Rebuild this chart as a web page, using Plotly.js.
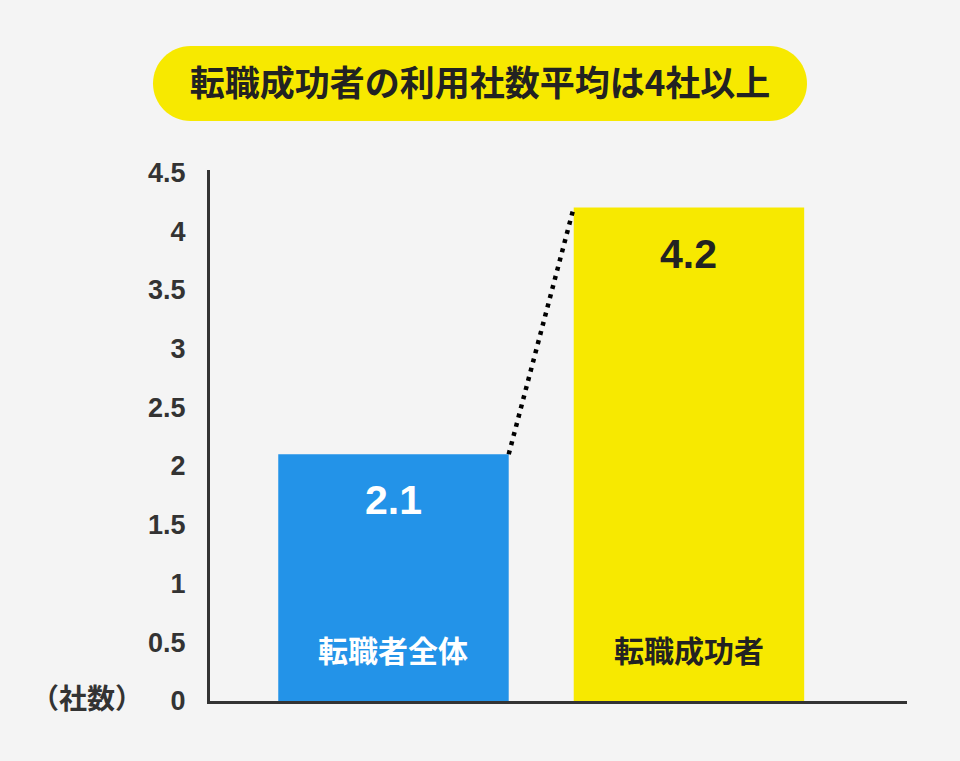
<!DOCTYPE html>
<html>
<head>
<meta charset="utf-8">
<script src="https://cdn.plot.ly/plotly-3.0.1.min.js"></script>
<style>html,body{margin:0;padding:0;background:#f4f4f4;}#chart{width:960px;height:761px;}</style>
</head>
<body>
<div id="chart"></div>
<script>
// ---- data ----
const categories = ["転職者全体", "転職成功者"];
const values = [2.1, 4.2];
const valueLabels = ["2.1", "4.2"];
const barColors = ["#2393e8", "#f7e900"];
const labelColors = ["#ffffff", "#222222"];
const tickValues = [0, 0.5, 1, 1.5, 2, 2.5, 3, 3.5, 4, 4.5];
const tickLabels = ["0", "0.5", "1", "1.5", "2", "2.5", "3", "3.5", "4", "4.5"];
const titleText = "転職成功者の利用社数平均は4社以上";
const unitText = "（社数）";

// ---- layout geometry ----
const W = 960, H = 761;
const M = {l: 210, r: 53, t: 170, b: 60};
const pw = W - M.l - M.r, ph = H - M.t - M.b;
const BAR_W = 0.78;
const FONT = "Liberation Sans, Arial, Noto Sans CJK JP, sans-serif";
const FONT_CJK = "Noto Sans CJK JP, Liberation Sans, sans-serif";

function px2x(px) { return (px - M.l) / pw; }
function px2y(py) { return (H - M.b - py) / ph; }

// rounded pill behind title (pixel geometry)
function pillPath(left, right, top, bottom) {
  const r = (bottom - top) / 2, cy = (top + bottom) / 2, k = 0.5523 * r;
  const P = (x, y) => px2x(x) + "," + px2y(y);
  return "M" + P(left + r, top) +
    " L" + P(right - r, top) +
    " C" + P(right - r + k, top) + " " + P(right, cy - k) + " " + P(right, cy) +
    " C" + P(right, cy + k) + " " + P(right - r + k, bottom) + " " + P(right - r, bottom) +
    " L" + P(left + r, bottom) +
    " C" + P(left + r - k, bottom) + " " + P(left, cy + k) + " " + P(left, cy) +
    " C" + P(left, cy - k) + " " + P(left + r - k, top) + " " + P(left + r, top) + " Z";
}

const trace = {
  type: "bar",
  x: categories,
  y: values,
  width: BAR_W,
  marker: {color: barColors, line: {width: 0}},
  hoverinfo: "skip",
  showlegend: false
};

const annotations = [];
categories.forEach((c, i) => {
  annotations.push({
    x: c, y: values[i], xref: "x", yref: "y",
    text: "<b>" + valueLabels[i] + "</b>", showarrow: false,
    yanchor: "middle", yshift: -46,
    font: {family: FONT, size: 41, color: labelColors[i]}
  });
  annotations.push({
    x: c, y: 0, xref: "x", yref: "y",
    text: "<b>" + c + "</b>", showarrow: false,
    yanchor: "middle", yshift: 52,
    font: {family: FONT_CJK, size: 30, color: labelColors[i]}
  });
});
annotations.push({
  x: px2x(87), y: 0, xref: "paper", yref: "y",
  text: "<b>" + unitText + "</b>", showarrow: false,
  xanchor: "center", yanchor: "middle", yshift: 4,
  font: {family: FONT_CJK, size: 28, color: "#333333"}
});

const layout = {
  width: W, height: H,
  margin: M,
  paper_bgcolor: "#f4f4f4",
  plot_bgcolor: "#f4f4f4",
  title: {
    text: "<b>" + titleText + "</b>",
    x: 0.5, xref: "container", xanchor: "center",
    y: 1 - 84 / H, yref: "container", yanchor: "middle",
    font: {family: FONT_CJK, size: 35, color: "#222222"}
  },
  xaxis: {
    type: "category",
    range: [-0.621, 1.738],
    showticklabels: false,
    ticks: "",
    showgrid: false,
    zeroline: false,
    showline: true, linecolor: "#333333", linewidth: 3,
    fixedrange: true
  },
  yaxis: {
    range: [0, 4.52],
    tickvals: tickValues,
    ticktext: tickLabels,
    ticks: "",
    ticklabelstandoff: 16,
    tickfont: {family: FONT, size: 27, color: "#333333", weight: "bold"},
    showgrid: false,
    zeroline: false,
    showline: true, linecolor: "#333333", linewidth: 3,
    fixedrange: true
  },
  shapes: [
    {
      type: "path", xref: "paper", yref: "paper", layer: "below",
      path: pillPath(153, 807, 46, 121),
      fillcolor: "#f7e900", line: {width: 0}
    },
    {
      type: "line", xref: "x", yref: "y", layer: "above",
      x0: 0 + BAR_W / 2, y0: values[0],
      x1: 1 - BAR_W / 2, y1: values[1],
      line: {color: "#000000", width: 4.5, dash: "4px,5.5px"}
    }
  ],
  annotations: annotations,
  bargap: 0.2
};

Plotly.newPlot("chart", [trace], layout, {displayModeBar: false, staticPlot: true});
</script>
</body>
</html>
